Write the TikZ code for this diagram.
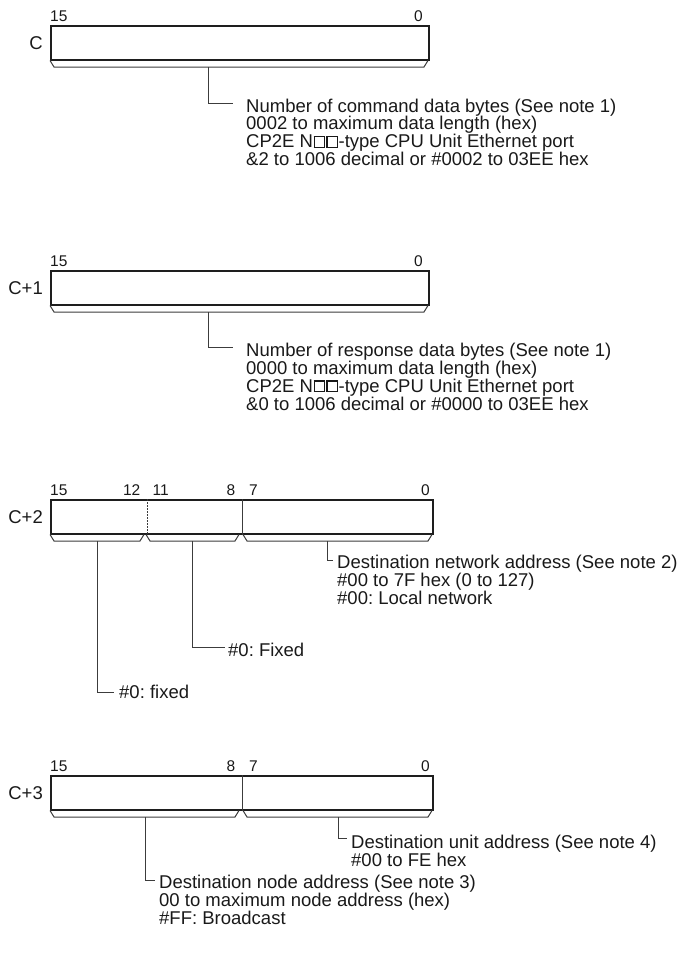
\documentclass[tikz,border=0pt]{standalone}
\usepackage{fontspec}
\setmainfont{Liberation Sans}
\usetikzlibrary{positioning}
\definecolor{WordLine}{RGB}{30, 30, 30}
\definecolor{WordText}{RGB}{25, 25, 25}
\definecolor{WordLead}{RGB}{60, 60, 60}
% open square used in the unit type name
\newcommand{\holebox}{\kern0.5bp\raisebox{1.2bp}{\fboxsep=0pt\fboxrule=1.2bp\fbox{\rule{0pt}{9.4bp}\rule{9.4bp}{0pt}}}\kern0.5bp}

\begin{document}
\begin{tikzpicture}[x=1bp, y=-1bp,
    word/.style={draw=WordLine, line width=1.7bp, minimum height=34bp, inner sep=0pt, anchor=north west},
    rowlab/.style={font=\fontsize{18.5bp}{20bp}\selectfont, text=WordText, inner sep=0pt},
    bitlab/.style={font=\fontsize{15.5bp}{17bp}\selectfont, text=WordText, inner sep=0pt},
    note/.style={font=\fontsize{18.5bp}{17.8bp}\selectfont\frenchspacing, text=WordText, align=left, inner sep=0pt, anchor=north west},
    brace/.style={draw=WordLead, line width=1bp},
    lead/.style={draw=WordLead, line width=0.9bp},
    split/.style={draw=WordLead, line width=1bp},
    dotsplit/.style={draw=WordLead, line width=1bp, dash pattern=on 1.5bp off 1.5bp}]
    \path[use as bounding box] (0,0) rectangle (684,953);

    % C: command data bytes
    \node[word, minimum width=378bp] (wC) at (50,25) {};
    \node[rowlab, left=7bp of wC] (labC) {C};
    \node[bitlab, anchor=base west] (hiC) at (50,21.5) {15};
    \node[bitlab, anchor=base east] (loC) at (423,21.5) {0};

    % C+1: response data bytes
    \node[word, minimum width=378bp] (wC1) at (50,270) {};
    \node[rowlab, left=7bp of wC1] (labC1) {C+1};
    \node[bitlab, anchor=base west] (hiC1) at (50,266.5) {15};
    \node[bitlab, anchor=base east] (loC1) at (423,266.5) {0};

    % C+2: network address
    \node[word, minimum width=382bp] (wC2) at (50,499) {};
    \node[rowlab, left=7bp of wC2] (labC2) {C+2};
    \draw[dotsplit] ([xshift=97bp]wC2.north west) -- ([xshift=97bp]wC2.south west);
    \draw[split] ([xshift=192bp]wC2.north west) -- ([xshift=192bp]wC2.south west);
    \node[bitlab, anchor=base west] (b15C2) at (50,495.5) {15};
    \node[bitlab, anchor=base east] (b12C2) at (140.5,495.5) {12};
    \node[bitlab, anchor=base west] (b11C2) at (152.5,495.5) {11};
    \node[bitlab, anchor=base east] (b8C2) at (235.5,495.5) {8};
    \node[bitlab, anchor=base west] (b7C2) at (249,495.5) {7};
    \node[bitlab, anchor=base east] (b0C2) at (430,495.5) {0};

    % C+3: node and unit address
    \node[word, minimum width=382bp] (wC3) at (50,775) {};
    \node[rowlab, left=7bp of wC3] (labC3) {C+3};
    \draw[split] ([xshift=192bp]wC3.north west) -- ([xshift=192bp]wC3.south west);
    \node[bitlab, anchor=base west] (b15C3) at (50,771.5) {15};
    \node[bitlab, anchor=base east] (b8C3) at (235.5,771.5) {8};
    \node[bitlab, anchor=base west] (b7C3) at (249,771.5) {7};
    \node[bitlab, anchor=base east] (b0C3) at (430,771.5) {0};

    % braces under the fields
    \foreach \a/\b/\t in {50/428/59, 50/428/304, 50/144/533, 146/239/533, 243/432/533, 50/239/809, 243/432/809}
      \draw[brace] (\a,\t+1.5) -- (\a+4,\t+8) -- (\b-4,\t+8) -- (\b,\t+1.5);

    \coordinate (cmdB) at (208,67);
    \coordinate (rspB) at (208,312);
    \coordinate (fixHiB) at (97,541);
    \coordinate (fixLoB) at (192,541);
    \coordinate (netB) at (327,541);
    \coordinate (nodeB) at (145,817);
    \coordinate (unitB) at (338,817);

    % notes
    \node[note] (cmdTxt) at (246,98.5) {Number of command data bytes (See note 1)\\
      0002 to maximum data length (hex)\\
      CP2E N\holebox\holebox-type CPU Unit Ethernet port\\
      \&2 to 1006 decimal or \#0002 to 03EE hex};
    \node[note] (rspTxt) at (246,343) {Number of response data bytes (See note 1)\\
      0000 to maximum data length (hex)\\
      CP2E N\holebox\holebox-type CPU Unit Ethernet port\\
      \&0 to 1006 decimal or \#0000 to 03EE hex};
    \node[note] (netTxt) at (337,555) {Destination network address (See note 2)\\
      \#00 to 7F hex (0 to 127)\\
      \#00: Local network};
    \node[note] (fixLoTxt) at (228,643) {\#0: Fixed};
    \node[note] (fixHiTxt) at (119,685) {\#0: fixed};
    \node[note] (unitTxt) at (351,835) {Destination unit address (See note 4)\\
      \#00 to FE hex};
    \node[note] (nodeTxt) at (159,875) {Destination node address (See note 3)\\
      00 to maximum node address (hex)\\
      \#FF: Broadcast};

    \draw[lead] (cmdB) |- ([xshift=-13bp,yshift=-4.5bp]cmdTxt.north west);
    \draw[lead] (rspB) |- ([xshift=-13bp,yshift=-4.5bp]rspTxt.north west);
    \draw[lead] (netB) |- ([xshift=-4bp,yshift=-5.5bp]netTxt.north west);
    \draw[lead] (fixLoB) |- ([xshift=-3bp,yshift=-4bp]fixLoTxt.north west);
    \draw[lead] (fixHiB) |- ([xshift=-5bp,yshift=-7bp]fixHiTxt.north west);
    \draw[lead] (unitB) |- ([xshift=-4bp,yshift=-3bp]unitTxt.north west);
    \draw[lead] (nodeB) |- ([xshift=-4bp,yshift=-5bp]nodeTxt.north west);
\end{tikzpicture}
\end{document}
